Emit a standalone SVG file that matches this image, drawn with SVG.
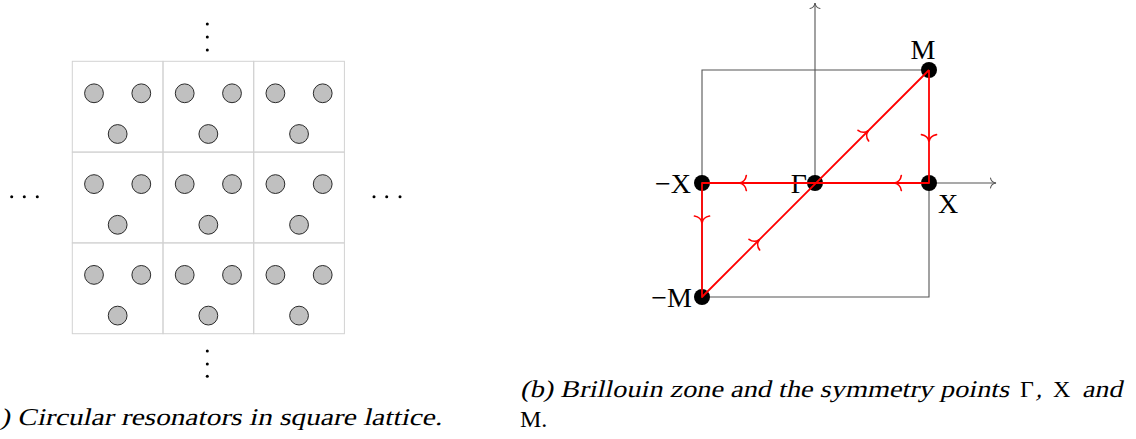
<svg xmlns="http://www.w3.org/2000/svg" xmlns:xlink="http://www.w3.org/1999/xlink" width="1136" height="439" viewBox="0 0 1136 439">
<style>
.cell{fill:none;stroke:#d2d2d2;stroke-width:1}
.res{fill:#c0c0c0;stroke:#2a2a2a;stroke-width:1}
.dot{fill:#000}
.box{fill:none;stroke:#555;stroke-width:1.1}
.axis{fill:none;stroke:#555;stroke-width:1.1}
.axhead{fill:none;stroke:#555;stroke-width:1.1;stroke-linecap:round}
.path{fill:none;stroke:#ff0000;stroke-width:1.8;stroke-linejoin:round}
.rhead{fill:none;stroke:#ff0000;stroke-width:1.7;stroke-linecap:round}
.pt{fill:#000}
.lbl{font-family:"Liberation Serif","DejaVu Serif",serif;font-size:28px;fill:#000}
.cap{font-family:"Liberation Serif","DejaVu Serif",serif;font-size:24px;fill:#000}
</style>
<defs>
<g id="cellshape">
<rect class="cell" x="0" y="0" width="90.7" height="90.8"/>
<circle class="res" cx="21.7" cy="32" r="9.4"/>
<circle class="res" cx="69" cy="32" r="9.4"/>
<circle class="res" cx="45.35" cy="72.7" r="9.4"/>
</g>
<path id="rarrow" class="rhead" d="M-7,-7.5 C-6.5,-3.2 -3.2,-0.5 0,0 C-3.2,0.5 -6.5,3.2 -7,7.5"/>
<path id="garrow" class="axhead" d="M-5.5,-5 C-5,-2 -2.5,-0.4 0,0 C-2.5,0.4 -5,2 -5.5,5"/>
</defs>

<!-- (a) lattice -->
<g id="lattice">
<g id="cell-0-0"><use xlink:href="#cellshape" transform="translate(72.3,61.3)"/></g>
<g id="cell-1-0"><use xlink:href="#cellshape" transform="translate(163,61.3)"/></g>
<g id="cell-2-0"><use xlink:href="#cellshape" transform="translate(253.7,61.3)"/></g>
<g id="cell-0-1"><use xlink:href="#cellshape" transform="translate(72.3,152.1)"/></g>
<g id="cell-1-1"><use xlink:href="#cellshape" transform="translate(163,152.1)"/></g>
<g id="cell-2-1"><use xlink:href="#cellshape" transform="translate(253.7,152.1)"/></g>
<g id="cell-0-2"><use xlink:href="#cellshape" transform="translate(72.3,242.9)"/></g>
<g id="cell-1-2"><use xlink:href="#cellshape" transform="translate(163,242.9)"/></g>
<g id="cell-2-2"><use xlink:href="#cellshape" transform="translate(253.7,242.9)"/></g>
</g>
<g id="ellipses">
<circle class="dot" cx="207.3" cy="24" r="1.5"/>
<circle class="dot" cx="207.3" cy="37" r="1.5"/>
<circle class="dot" cx="207.3" cy="50" r="1.5"/>
<circle class="dot" cx="207.3" cy="351" r="1.5"/>
<circle class="dot" cx="207.3" cy="364" r="1.5"/>
<circle class="dot" cx="207.3" cy="376.3" r="1.5"/>
<circle class="dot" cx="11.7" cy="196.7" r="1.5"/>
<circle class="dot" cx="24.3" cy="196.7" r="1.5"/>
<circle class="dot" cx="37.3" cy="196.7" r="1.5"/>
<circle class="dot" cx="374" cy="196.7" r="1.5"/>
<circle class="dot" cx="386.7" cy="196.7" r="1.5"/>
<circle class="dot" cx="400" cy="196.7" r="1.5"/>
</g>
<text id="caption-a" class="cap" transform="translate(0,425) skewX(-13)" x="0" y="0" textLength="442" lengthAdjust="spacingAndGlyphs">) Circular resonators in square lattice.</text>

<!-- (b) Brillouin zone -->
<g id="zone">
<polyline class="box" points="929,183 929,297 702,297 702,70 929,70"/>
</g>
<g id="axes">
<line class="axis" x1="815" y1="183" x2="815" y2="3"/>
<line class="axis" x1="815" y1="183" x2="996" y2="183"/>
<use xlink:href="#garrow" transform="translate(815,3) rotate(-90)"/>
<use xlink:href="#garrow" transform="translate(996,183)"/>
</g>
<g id="node-M"><circle class="pt" cx="929" cy="70" r="8"/><text class="lbl" x="923" y="59" text-anchor="middle">M</text></g>
<g id="node-X"><circle class="pt" cx="929" cy="183" r="8"/><text class="lbl" x="938" y="213">X</text></g>
<g id="node-Gamma"><circle class="pt" cx="815" cy="183" r="8"/><text class="lbl" x="807" y="193" text-anchor="end">Γ</text></g>
<g id="node-mX"><circle class="pt" cx="702" cy="183" r="8"/><text class="lbl" x="691" y="193" text-anchor="end">−X</text></g>
<g id="node-mM"><circle class="pt" cx="702" cy="297" r="8"/><text class="lbl" x="692" y="307" text-anchor="end">−M</text></g>
<g id="connectors">
<polyline class="path" points="929,70 929,183 702,183 702,297 929,70"/>
<use xlink:href="#rarrow" transform="translate(929,141.7) rotate(90)"/>
<use xlink:href="#rarrow" transform="translate(894.3,183) rotate(180)"/>
<use xlink:href="#rarrow" transform="translate(739.3,183) rotate(180)"/>
<use xlink:href="#rarrow" transform="translate(702,223) rotate(90)"/>
<use xlink:href="#rarrow" transform="translate(759.3,239.7) rotate(-45)"/>
<use xlink:href="#rarrow" transform="translate(868.3,130.7) rotate(-45)"/>
</g>
<g id="caption-b">
<text class="cap" transform="translate(520,397) skewX(-13)" x="0" y="0" textLength="489" lengthAdjust="spacingAndGlyphs">(b) Brillouin zone and the symmetry points</text>
<text class="cap" x="1020" y="397">Γ</text>
<text class="cap" transform="translate(1036,397) skewX(-13)" x="0" y="0">,</text>
<text class="cap" x="1053" y="397">X</text>
<text class="cap" transform="translate(1082,397) skewX(-13)" x="0" y="0" textLength="40" lengthAdjust="spacingAndGlyphs">and</text>
<text class="cap" x="520" y="427">M.</text>
</g>
</svg>
